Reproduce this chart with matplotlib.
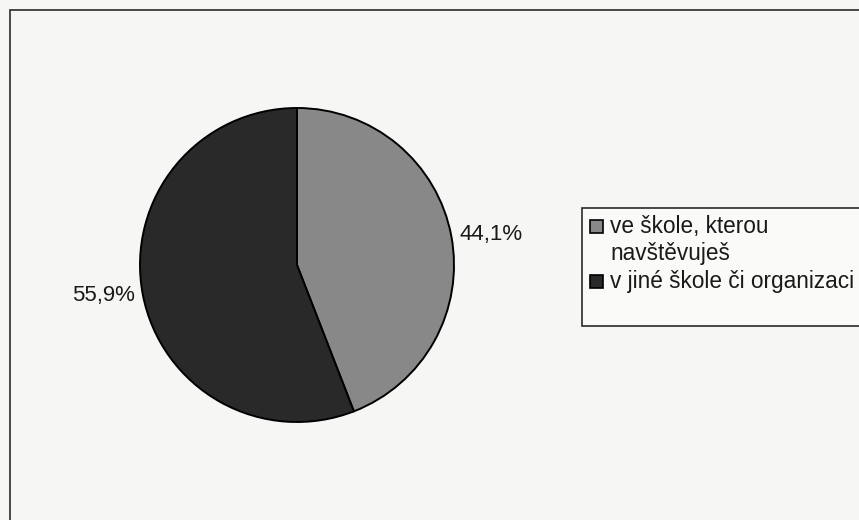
import matplotlib.pyplot as plt
from matplotlib.patches import Rectangle

# share of answers
categories = [['ve škole, kterou', 'navštěvuješ'], ['v jiné škole či organizaci']]
values = [44.1, 55.9]
colors = ['#888888', '#292929']

plt.rcParams['font.family'] = ['Liberation Sans', 'DejaVu Sans']

W, H = 859, 520
fig = plt.figure(figsize=(W / 100, H / 100), dpi=100)
fig.patch.set_facecolor('#f6f6f4')


def px(x, y):
    # pixel position (from top-left) -> figure fraction
    return x / W, 1 - y / H


# chart frame, runs off the right and bottom edges
fig.patches.append(Rectangle((10 / W, -0.02), 1.05, 1 - 10 / H + 0.02,
                             transform=fig.transFigure, fill=False,
                             edgecolor='#3a3a3a', linewidth=1.3))

# pie axes: centre (297, 265) px, radius 157 px
cx, cy, r = 297, 265, 157
ax = fig.add_axes([(cx - r) / W, 1 - (cy + r) / H, 2 * r / W, 2 * r / H])
labels = [f'{v:.1f}%'.replace('.', ',') for v in values]
wedges, texts = ax.pie(values, colors=colors, startangle=90, counterclock=False,
                       labels=labels, labeldistance=1.05,
                       wedgeprops=dict(edgecolor='black', linewidth=1.4),
                       textprops=dict(fontsize=16, color='#1a1a1a'))
ax.set_xlim(-1, 1)
ax.set_ylim(-1, 1)
ax.set_aspect('auto')
ax.axis('off')

# legend box
lx0, ly0, ly1 = 582, 208, 326
fig.patches.append(Rectangle(px(lx0, ly1), 1.0, (ly1 - ly0) / H,
                             transform=fig.transFigure, facecolor='#fafaf8',
                             edgecolor='#2a2a2a', linewidth=1.2))

# legend entries: key square top y, text baselines
key_tops = [220, 275]
baselines = [[233, 260], [288]]
for color, lines, top, bases in zip(colors, categories, key_tops, baselines):
    x0, y0 = px(590, top + 13)
    fig.patches.append(Rectangle((x0, y0), 13 / W, 13 / H,
                                 transform=fig.transFigure, facecolor=color,
                                 edgecolor='black', linewidth=1.2))
    for line, b in zip(lines, bases):
        fig.text(*px(610, b), line, fontsize=16.3, color='#1a1a1a',
                 va='baseline', ha='left')

fig.savefig('out.png', dpi=100, facecolor=fig.get_facecolor())
